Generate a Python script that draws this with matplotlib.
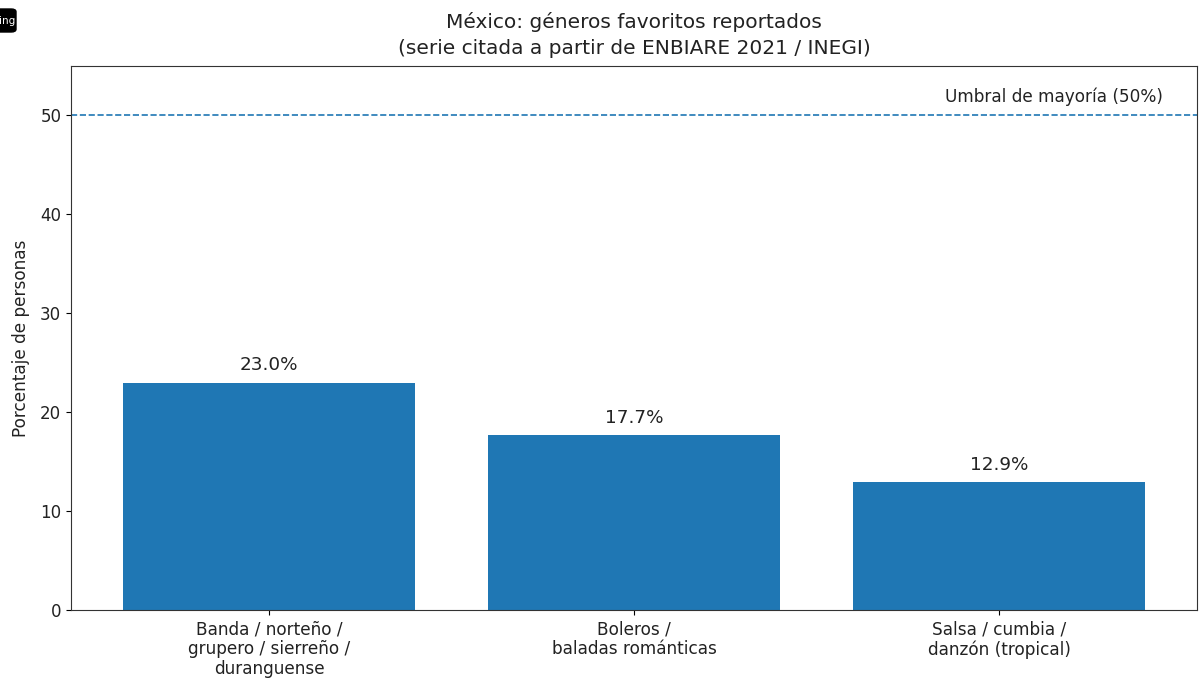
import matplotlib
matplotlib.use('Agg')
import matplotlib.pyplot as plt
from matplotlib.patches import FancyBboxPatch

categories = ['Banda / norteño /\ngrupero / sierreño /\nduranguense',
              'Boleros /\nbaladas románticas',
              'Salsa / cumbia /\ndanzón (tropical)']
values = [23.0, 17.7, 12.9]
threshold = 50
threshold_label = 'Umbral de mayoría (50%)'
badge_text = 'ing'
title = 'México: géneros favoritos reportados\n(serie citada a partir de ENBIARE 2021 / INEGI)'

text_color = '#222222'
plt.rcParams['text.color'] = text_color
plt.rcParams['xtick.labelcolor'] = text_color
plt.rcParams['ytick.labelcolor'] = text_color
plt.rcParams['axes.labelcolor'] = text_color

fig = plt.figure(figsize=(12, 6.9), dpi=100)
ax = fig.add_axes([71 / 1200, 1 - 610 / 690, (1197 - 71) / 1200, (610 - 66) / 690])

ax.bar(range(len(values)), values, width=0.8, color='#1f77b4')
for i, v in enumerate(values):
    ax.annotate(f'{v:.1f}%', (i, v), xytext=(0, 6), textcoords='offset points',
                ha='center', va='bottom', fontsize=13.2)

## Majority line
ax.axhline(threshold, color='#1f77b4', linestyle='--', linewidth=1.2)
ax.text(2.449, threshold + 1, threshold_label, ha='right', va='bottom', fontsize=12.2)

ax.set_xticks(range(len(values)))
ax.set_xticklabels(categories, fontsize=12.2, linespacing=1.14)
ax.set_xlim(-0.5425, 2.5425)
ax.set_ylim(0, 55)
ax.set_yticks([0, 10, 20, 30, 40, 50])
ax.tick_params(axis='y', labelsize=12)
ax.tick_params(axis='x', pad=4)
ax.set_ylabel('Porcentaje de personas', fontsize=12.2, labelpad=7)
ax.set_title(title, fontsize=14.5, linespacing=1.42, pad=9)
for spine in ax.spines.values():
    spine.set_color('#333333')

## Cropped badge in the top left corner
badge = FancyBboxPatch((-20 / 1200, 1 - 32 / 690), 36 / 1200, 23 / 690, transform=fig.transFigure,
                       boxstyle='round,pad=0,rounding_size=0.004', facecolor='black',
                       edgecolor='black', clip_on=True)
fig.add_artist(badge)
fig.text(15 / 1200, 1 - 21 / 690, badge_text, color='white', fontsize=7.5, ha='right', va='center')

fig.savefig('out.png', dpi=100)
